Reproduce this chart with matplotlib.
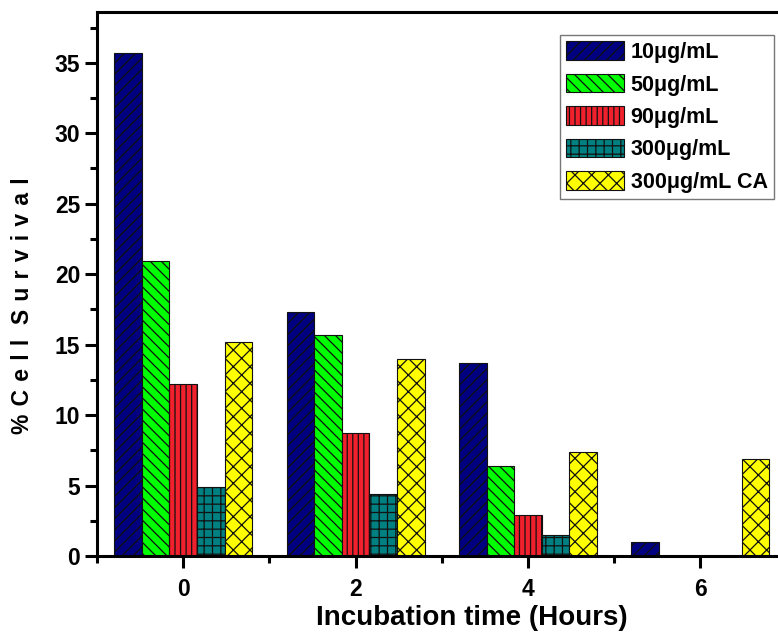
import matplotlib
matplotlib.use("Agg")
import matplotlib.pyplot as plt
import numpy as np

plt.rcParams['font.family'] = ['Liberation Sans', 'DejaVu Sans']
plt.rcParams['font.weight'] = 'bold'
plt.rcParams['hatch.linewidth'] = 0.9

hours = [0, 2, 4, 6]
labels = ['10\u03bcg/mL', '50\u03bcg/mL', '90\u03bcg/mL', '300\u03bcg/mL', '300\u03bcg/mL CA']
survival = [
    [35.7, 17.3, 13.7, 1.0],
    [20.9, 15.7, 6.4, 0.0],
    [12.2, 8.7, 2.9, 0.0],
    [4.9, 4.4, 1.5, 0.0],
    [15.2, 14.0, 7.4, 6.9],
]
colors = ['#000080', '#00ff00', '#f0202c', '#008080', '#ffff00']
hatches = ['///', '\\\\\\', '|||', '++', 'xx']

fig = plt.figure(figsize=(7.78, 6.33), dpi=100)
ax = fig.add_axes([97 / 778, 1 - 556 / 633, 681 / 778, 544 / 633])

w = 0.32
x = np.array(hours, dtype=float)
for i in range(len(labels)):
    ax.bar(x + (i - 2) * w, survival[i], width=w, color=colors[i],
           edgecolor='#111111', linewidth=0.8, hatch=hatches[i], label=labels[i])

ax.set_xlim(-1, 6.9)
ax.set_ylim(0, 38.6)
ax.set_xticks(hours)
ax.set_xticks([-1, 1, 3, 5], minor=True)
ax.set_yticks(np.arange(0, 36, 5))
ax.set_yticks(np.arange(2.5, 38, 5), minor=True)

for s in ['left', 'bottom', 'top']:
    ax.spines[s].set_linewidth(2.2)
ax.spines['right'].set_visible(False)

ax.tick_params(axis='both', which='major', direction='out', length=8.5, width=2.2,
               labelsize=16.5, pad=3.5)
ax.tick_params(axis='both', which='minor', direction='out', length=5, width=2.2)
ax.tick_params(axis='x', which='major', pad=7.5)

ax.set_xlabel('Incubation time (Hours)', fontsize=20, fontweight='bold')
ax.xaxis.set_label_coords(0.551, -0.09)
# spaced-out letters for the y title
ylab = ' \u200a'.join('%Cell') + '  \u200a' + ' \u200a'.join('Survival')
ax.set_ylabel(ylab, fontsize=16.5, fontweight='bold')
ax.yaxis.set_label_coords(-0.092, 0.46)

leg = ax.legend(loc='upper right', bbox_to_anchor=(774 / 778, 1 - 35 / 633),
                bbox_transform=fig.transFigure, borderaxespad=0, fancybox=False,
                frameon=True, fontsize=15.5, handlelength=2.7, handleheight=0.95,
                handletextpad=0.3, labelspacing=0.5, borderpad=0.3)
leg.get_frame().set_edgecolor('#555555')
leg.get_frame().set_linewidth(1.0)

fig.savefig('out.png', dpi=100, facecolor='white')
